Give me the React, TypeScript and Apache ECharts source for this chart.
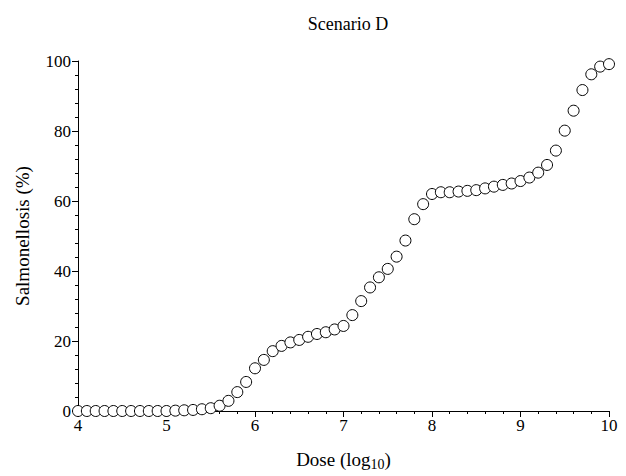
import React, { useEffect, useRef } from "react";
import * as echarts from "echarts";

const doses: number[] = [
  4.0, 4.1, 4.2, 4.3, 4.4, 4.5, 4.6, 4.7, 4.8, 4.9,
  5.0, 5.1, 5.2, 5.3, 5.4, 5.5, 5.6, 5.7, 5.8, 5.9,
  6.0, 6.1, 6.2, 6.3, 6.4, 6.5, 6.6, 6.7, 6.8, 6.9,
  7.0, 7.1, 7.2, 7.3, 7.4, 7.5, 7.6, 7.7, 7.8, 7.9,
  8.0, 8.1, 8.2, 8.3, 8.4, 8.5, 8.6, 8.7, 8.8, 8.9,
  9.0, 9.1, 9.2, 9.3, 9.4, 9.5, 9.6, 9.7, 9.8, 9.9,
  10.0,
];

const salmonellosis: number[] = [
  0, 0, 0, 0, 0, 0, 0, 0, 0, 0,
  0, 0.1, 0.2, 0.3, 0.5, 0.8, 1.5, 2.9, 5.4, 8.3,
  12.2, 14.6, 17.1, 18.6, 19.6, 20.3, 21.2, 22.0, 22.5, 23.3,
  24.3, 27.4, 31.4, 35.3, 38.2, 40.6, 44.1, 48.7, 54.8, 59.1,
  62.0, 62.5, 62.5, 62.7, 62.9, 63.1, 63.6, 64.1, 64.6, 65.0,
  65.7, 66.7, 68.1, 70.3, 74.4, 80.1, 85.8, 91.7, 96.2, 98.4,
  99.1,
];

const chartTitle = "Scenario D";
const xName = "{a|Dose (log}{b|10}{a|)}";
const yName = "Salmonellosis (%)";

const FONT = "Liberation Serif";

export default function App() {
  const ref = useRef<HTMLDivElement>(null);

  useEffect(() => {
    if (!ref.current) return;
    const chart = echarts.init(ref.current, undefined, { renderer: "svg" });
    const points = doses.map((d, i) => [d, salmonellosis[i]]);
    chart.setOption({
      animation: false,
      backgroundColor: "#ffffff",
      textStyle: { fontFamily: FONT, color: "#000" },
      title: {
        text: chartTitle,
        left: 343,
        top: 10,
        textAlign: "center",
        textStyle: { fontFamily: FONT, fontSize: 18, fontWeight: "normal", color: "#000" },
      },
      grid: { left: 78, right: 17, top: 61, bottom: 64 },
      xAxis: {
        type: "value",
        min: 4,
        max: 10,
        interval: 1,
        name: xName,
        nameLocation: "middle",
        nameGap: 37,
        nameTextStyle: {
          rich: {
            a: { fontFamily: FONT, fontSize: 19, color: "#000" },
            b: { fontFamily: FONT, fontSize: 14, color: "#000", padding: [9, 0, 0, 0] },
          },
        },
        axisLine: { lineStyle: { color: "#000", width: 1 } },
        axisTick: { show: true, inside: false, length: 6, lineStyle: { color: "#000" } },
        minorTick: { show: true, splitNumber: 5, length: 3, lineStyle: { color: "#000" } },
        axisLabel: { fontFamily: FONT, fontSize: 17, color: "#000", margin: 6 },
        splitLine: { show: false },
      },
      yAxis: {
        type: "value",
        min: 0,
        max: 100,
        interval: 20,
        name: yName,
        nameLocation: "middle",
        nameGap: 46,
        nameTextStyle: { fontFamily: FONT, fontSize: 19, color: "#000" },
        axisLine: { show: true, lineStyle: { color: "#000", width: 1 } },
        axisTick: { show: true, inside: false, length: 6, lineStyle: { color: "#000" } },
        minorTick: { show: true, splitNumber: 5, length: 3, lineStyle: { color: "#000" } },
        axisLabel: { fontFamily: FONT, fontSize: 17, color: "#000", margin: 7 },
        splitLine: { show: false },
      },
      series: [
        {
          type: "scatter",
          data: points,
          symbol: "circle",
          symbolSize: 11,
          clip: false,
          itemStyle: { color: "#ffffff", borderColor: "#000000", borderWidth: 1, opacity: 1 },
        },
      ],
    });
    return () => chart.dispose();
  }, []);

  return (
    <div
      ref={ref}
      style={{ position: "absolute", left: 0, top: 0, width: 626, height: 476 }}
    />
  );
}
